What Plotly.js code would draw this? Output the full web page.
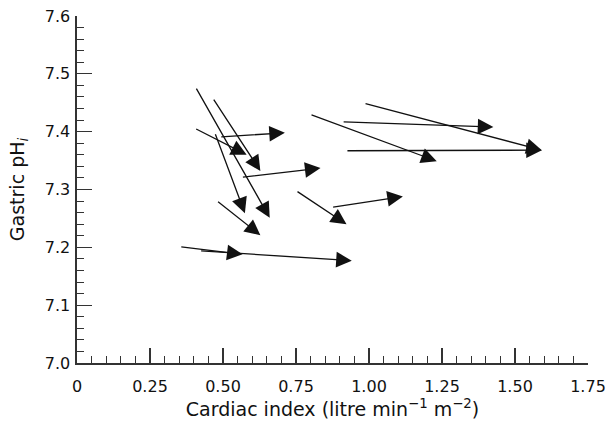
<!DOCTYPE html>
<html>
<head>
<meta charset="utf-8">
<script src="https://cdn.plot.ly/plotly-3.0.1.min.js"></script>
<style>
  html, body { margin: 0; padding: 0; background: #fff; }
  #chart { width: 607px; height: 423px; }
</style>
</head>
<body>
<div id="chart"></div>
<script>
// Arrow start (before) and end (after) values: cardiac index vs gastric pHi
const startCI = [0.406, 0.465, 0.403, 0.489, 0.472, 0.563, 0.478, 0.798, 0.908, 0.983, 0.921, 0.750, 0.872, 0.352, 0.420];
const startPH = [7.477, 7.458, 7.406, 7.391, 7.398, 7.321, 7.281, 7.430, 7.417, 7.449, 7.367, 7.298, 7.269, 7.201, 7.194];
const endCI   = [0.660, 0.628, 0.581, 0.712, 0.575, 0.834, 0.628, 1.232, 1.426, 1.592, 1.592, 0.923, 1.116, 0.567, 0.941];
const endPH   = [7.251, 7.332, 7.360, 7.398, 7.259, 7.337, 7.221, 7.349, 7.408, 7.368, 7.368, 7.240, 7.288, 7.188, 7.177];

const xTickVals = [0, 0.25, 0.5, 0.75, 1.0, 1.25, 1.5, 1.75];
const xTickText = ["0", "0.25", "0.50", "0.75", "1.00", "1.25", "1.50", "1.75"];
const yTickVals = [7.0, 7.1, 7.2, 7.3, 7.4, 7.5, 7.6];
const yTickText = ["7.0", "7.1", "7.2", "7.3", "7.4", "7.5", "7.6"];

const annotations = startCI.map((sx, i) => ({
  x: endCI[i], y: endPH[i],
  ax: sx, ay: startPH[i],
  xref: 'x', yref: 'y', axref: 'x', ayref: 'y',
  text: '', showarrow: true,
  arrowhead: 2, arrowsize: 2.4, arrowwidth: 1.3,
  arrowcolor: '#111'
}));

const tickFont = { family: 'DejaVu Sans, Verdana, sans-serif', size: 16, color: '#111' };
const titleFont = { family: 'DejaVu Sans, Verdana, sans-serif', size: 19, color: '#111' };

const layout = {
  width: 607, height: 423,
  margin: { l: 77, r: 19, t: 16, b: 60 },
  paper_bgcolor: '#fff', plot_bgcolor: '#fff',
  showlegend: false,
  font: tickFont,
  xaxis: {
    range: [0, 1.75], showgrid: false, zeroline: false,
    showline: true, linecolor: '#333', linewidth: 1.6,
    tickmode: 'array', tickvals: xTickVals, ticktext: xTickText,
    ticks: 'inside', ticklen: 15, tickwidth: 1.2, tickcolor: '#333',
    minor: { dtick: 0.05, ticks: 'inside', ticklen: 7, tickwidth: 1, tickcolor: '#333', showgrid: false },
    tickfont: tickFont, ticklabelstandoff: 8,
    title: { text: 'Cardiac index (litre min<sup>−1</sup> m<sup>−2</sup>)', font: titleFont, standoff: 6 }
  },
  yaxis: {
    range: [7.0, 7.6], showgrid: false, zeroline: false,
    showline: true, linecolor: '#333', linewidth: 1.6,
    tickmode: 'array', tickvals: yTickVals, ticktext: yTickText,
    ticks: 'inside', ticklen: 15, tickwidth: 1.2, tickcolor: '#333',
    minor: { dtick: 0.02, ticks: 'inside', ticklen: 7, tickwidth: 1, tickcolor: '#333', showgrid: false },
    tickfont: tickFont, ticklabelstandoff: 2,
    title: { text: 'Gastric pH<sub><i>i</i></sub>', font: titleFont, standoff: 15 }
  },
  annotations: annotations
};

Plotly.newPlot('chart', [{ x: [], y: [], type: 'scatter', mode: 'markers' }], layout, { displayModeBar: false, staticPlot: true });
</script>
</body>
</html>
